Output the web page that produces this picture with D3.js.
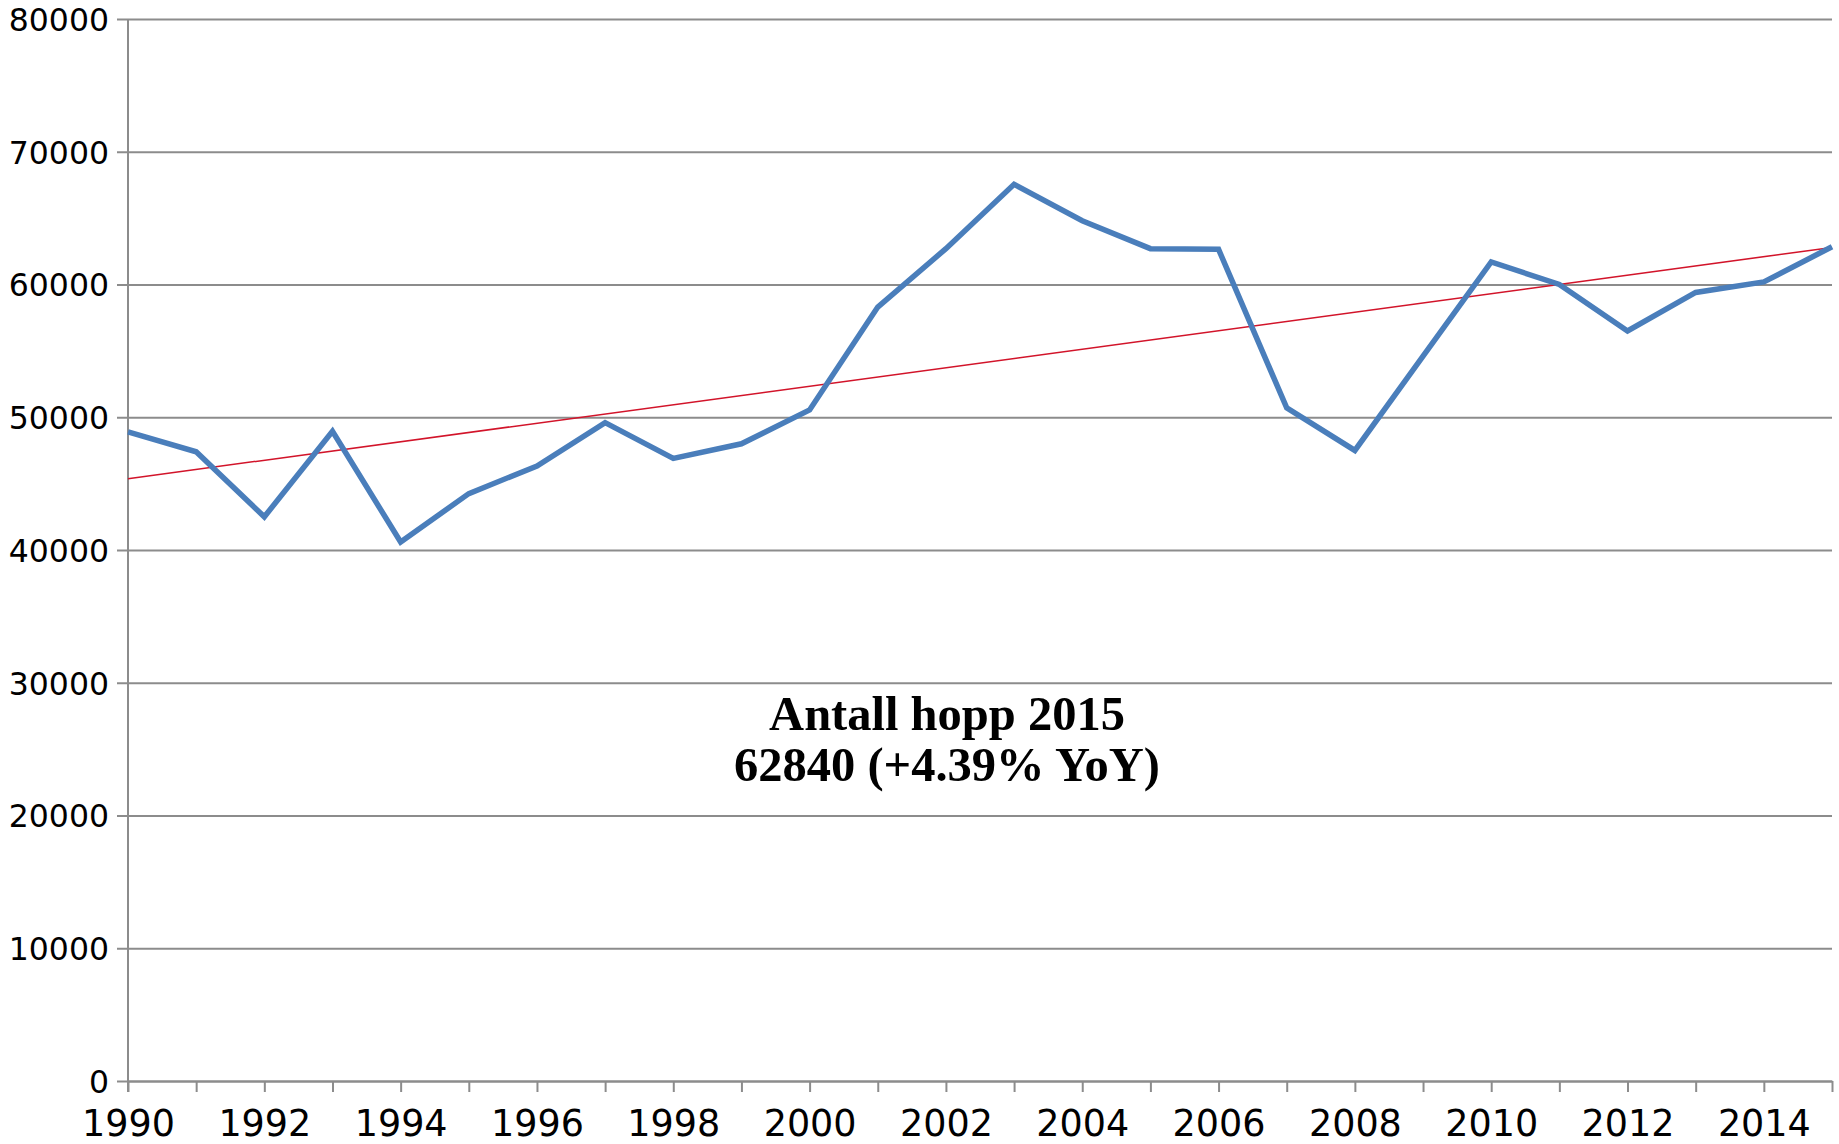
<!DOCTYPE html>
<html>
<head>
<meta charset="utf-8">
<script src="https://cdn.jsdelivr.net/npm/d3@7"></script>
<style>
    body { margin: 0; background: #fff; }
    svg { display: block; }
</style>
</head>
<body>
<script>
var WIDTH = 1839;
var HEIGHT = 1144;
var MARGIN = {left: 128, right: 7, top: 19, bottom: 63};
var TICK = 11;

// Antall hopp per år
var years = [1990, 1991, 1992, 1993, 1994, 1995, 1996, 1997, 1998, 1999,
             2000, 2001, 2002, 2003, 2004, 2005, 2006, 2007, 2008, 2009,
             2010, 2011, 2012, 2013, 2014, 2015];
var jumps = [48900, 47400, 42500, 48950, 40600, 44250, 46330, 49600, 46900, 48000,
             50550, 58300, 62700, 67550, 64800, 62700, 62650, 50700, 47500, 54600,
             61700, 60000, 56500, 59400, 60200, 62840];
var yTicks = [0, 10000, 20000, 30000, 40000, 50000, 60000, 70000, 80000];
var xLabels = [1990, 1992, 1994, 1996, 1998, 2000, 2002, 2004, 2006, 2008, 2010, 2012, 2014];
var titleLines = ["Antall hopp 2015", "62840 (+4.39% YoY)"];

var svg = d3.select("body").append("svg")
    .attr("width", WIDTH)
    .attr("height", HEIGHT);

var x = d3.scaleLinear()
    .domain([1990, 2015])
    .range([MARGIN.left, WIDTH - MARGIN.right]);
var y = d3.scaleLinear()
    .domain([0, 80000])
    .range([HEIGHT - MARGIN.bottom, MARGIN.top]);

var data = years.map(function(yr, i){ return {year: yr, value: jumps[i]}; });

// linear trendline (least squares), like the spreadsheet one
function trend(points) {
    var mx = d3.mean(points, function(d){ return d.year; });
    var my = d3.mean(points, function(d){ return d.value; });
    var sxy = 0, sxx = 0;
    points.forEach(function(d){
        sxy += (d.year - mx) * (d.value - my);
        sxx += (d.year - mx) * (d.year - mx);
    });
    var k = sxy / sxx;
    return function(yr){ return my + k * (yr - mx); };
}
var fit = trend(data);
var trendData = [1990, 2015].map(function(yr){ return {year: yr, value: fit(yr)}; });

// Horizontal gridlines + y ticks
var yAxis = d3.axisLeft(y)
    .tickValues(yTicks)
    .tickSize(-(x.range()[1] - x.range()[0]))
    .tickSizeOuter(0)
    .tickPadding(0)
    .tickFormat("");
var gy = svg.append("g")
    .attr("transform", "translate(" + MARGIN.left + ",0)")
    .call(yAxis);
gy.select(".domain").remove();
gy.selectAll(".tick line")
    .attr("x1", -TICK)
    .attr("stroke", "#8c8c8c")
    .attr("stroke-width", 2);

gy.selectAll(".tick")
    .append("text")
    .attr("x", -19)
    .attr("dy", "0.36em")
    .attr("text-anchor", "end")
    .attr("fill", "#000")
    .style("font-family", "'DejaVu Sans', sans-serif")
    .style("font-size", "31.5px")
    .text(function(d){ return d; });

// Y axis line
svg.append("line")
    .attr("x1", MARGIN.left).attr("x2", MARGIN.left)
    .attr("y1", y(80000)).attr("y2", y(0) + TICK)
    .attr("stroke", "#8c8c8c")
    .attr("stroke-width", 2);

// X axis with ticks every year
var xAxis = d3.axisBottom(x)
    .tickValues(years)
    .tickSize(TICK)
    .tickSizeOuter(0)
    .tickFormat("");
var gx = svg.append("g")
    .attr("transform", "translate(0," + y(0) + ")")
    .call(xAxis);
gx.select(".domain")
    .attr("stroke", "#8c8c8c")
    .attr("stroke-width", 2);
gx.selectAll(".tick line")
    .attr("stroke", "#8c8c8c")
    .attr("stroke-width", 2);

gx.selectAll(".tick")
    .filter(function(d){ return xLabels.indexOf(d) != -1; })
    .append("text")
    .attr("y", 55)
    .attr("text-anchor", "middle")
    .attr("fill", "#000")
    .style("font-family", "'DejaVu Sans', sans-serif")
    .style("font-size", "36.5px")
    .text(function(d){ return d; });

// Trendline
var line = d3.line()
    .x(function(d){ return x(d.year); })
    .y(function(d){ return y(d.value); });

svg.append("path")
    .datum(trendData)
    .attr("d", line)
    .attr("fill", "none")
    .attr("stroke", "#d2142a")
    .attr("stroke-width", 1.5);

// Data series
svg.append("path")
    .datum(data)
    .attr("d", line)
    .attr("fill", "none")
    .attr("stroke", "#4a7ebb")
    .attr("stroke-width", 5.5)
    .attr("stroke-linejoin", "miter");

// Annotation
var note = svg.append("text")
    .attr("text-anchor", "middle")
    .attr("fill", "#000")
    .style("font-family", "'Liberation Serif', 'Times New Roman', serif")
    .style("font-weight", "bold")
    .style("font-size", "48.5px");
titleLines.forEach(function(t, i){
    note.append("tspan")
        .attr("x", 947)
        .attr("y", 730 + i * 51)
        .text(t);
});
</script>
</body>
</html>
